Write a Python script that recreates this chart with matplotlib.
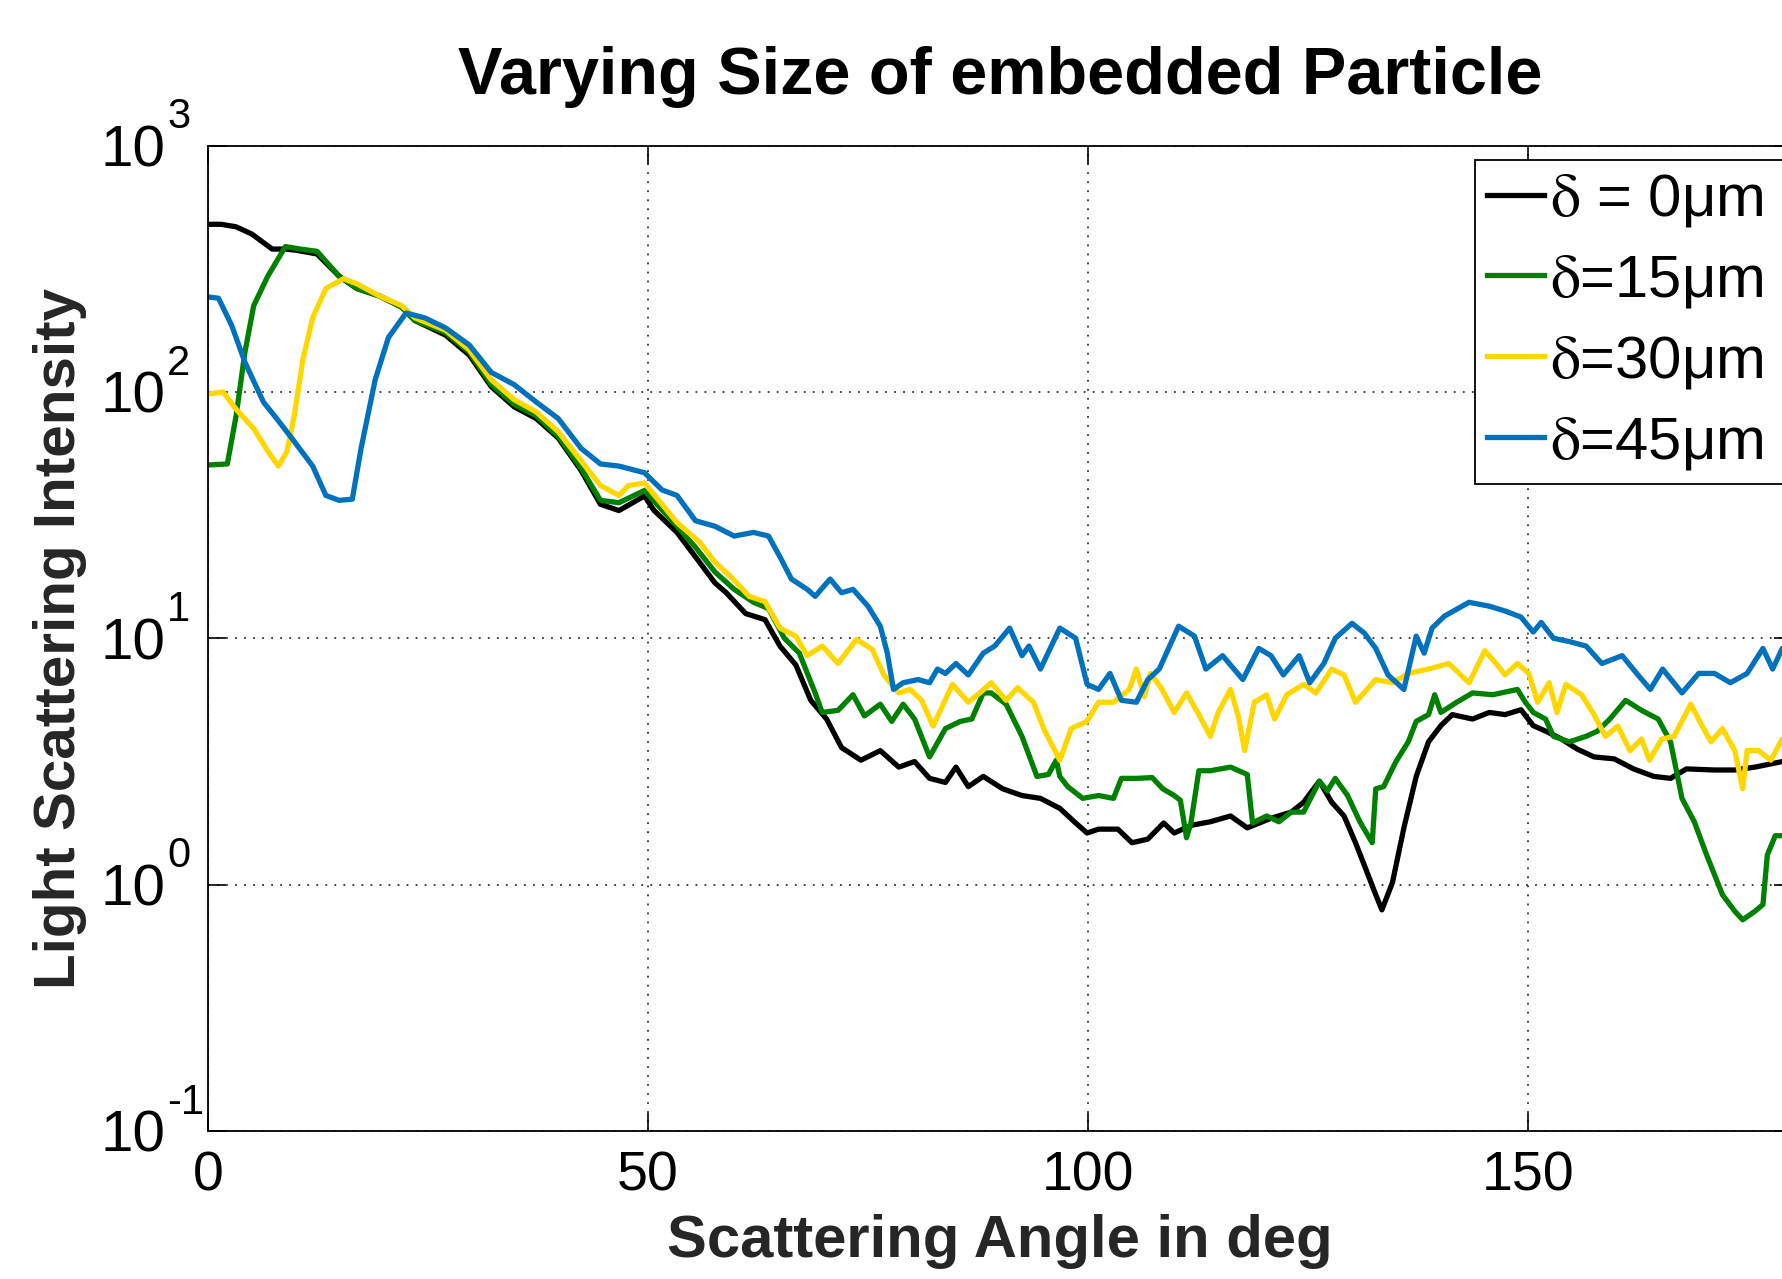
import matplotlib.pyplot as plt
from matplotlib.ticker import FixedLocator, NullLocator

plt.rcParams['font.family'] = ['Liberation Sans', 'DejaVu Sans']
plt.rcParams['mathtext.fontset'] = 'stix'

# scattering angle (deg) and intensity
angle_0um = [0, 1.5, 3.2, 5, 7.3, 8.8, 10, 12.4, 14.9, 16.9, 19.5, 22, 23.5, 27, 29.7, 32.2,
             34.8, 37.3, 39.8, 42.4, 44.6, 46.7, 49.6, 50.7, 53.3, 55.4, 57.6, 58.9, 61.1,
             63.3, 65, 66.8, 68.5, 70.3, 72, 74.2, 76.4, 78.5, 80.3, 82, 83.8, 85, 86.4, 88.1,
             90.3, 92.5, 94.6, 96.8, 98.6, 99.9, 101.2, 103.4, 105, 106.8, 108.6, 109.8,
             111.7, 113.9, 116.2, 118.1, 120.8, 123.1, 124.5, 126.3, 127.7, 129.1, 130.4,
             131.4, 132.7, 133.4, 134.6, 135.9, 137.3, 138.7, 140.1, 141.4, 143.7, 145.6,
             147.4, 149.2, 150.6, 152, 153.8, 155.6, 157.5, 159.8, 162, 164.3, 166.2, 168,
             171.2, 173.5, 175.8, 178.9, 180]
int_0um = [479, 479, 468, 437, 380, 380, 376, 363, 295, 263, 245, 221, 195, 170, 141, 105,
           87, 78, 65, 48, 35, 33, 37.8, 33, 26.9, 21.4, 16.8, 15.3, 12.6,
           11.9, 9.3, 7.8, 5.6, 4.7, 3.6, 3.2, 3.5, 3.0, 3.16, 2.7, 2.6, 3.0, 2.5, 2.75,
           2.45, 2.3, 2.24, 2.04, 1.78, 1.62, 1.68, 1.68, 1.48, 1.53, 1.78, 1.62,
           1.74, 1.8, 1.9, 1.7, 1.86, 1.97, 2.16, 2.63, 2.16, 1.9, 1.48,
           1.2, 0.91, 0.79, 1.02, 1.7, 2.75, 3.8, 4.42, 4.9, 4.7, 5.0,
           4.9, 5.13, 4.42, 4.2, 3.9, 3.55, 3.3, 3.24, 2.95, 2.75, 2.7, 2.95,
           2.92, 2.92, 3.0, 3.16, 3.16]

angle_15um = [0, 2.2, 3.2, 4.2, 5.2, 6.8, 8.8, 10.5, 12.4, 14.9, 16.9, 19.5, 22, 23.5, 27,
              29.7, 32.2, 34.8, 37.3, 39.8, 42.4, 44.6, 46.7, 49.6, 53.3, 55.4, 57.6, 59.8,
              62, 63.7, 65.5, 67.2, 69, 69.8, 71.6, 73.3, 74.6, 76.4, 77.7, 79, 80.3, 82,
              83.8, 85.5, 86.8, 88.1, 89, 90.7, 92.5, 94.2, 95.5, 96.4, 96.8, 97.7, 99.4,
              101.2, 102.9, 103.8, 105.5, 107.3, 108.5, 109.8, 110.5, 111.2, 111.7, 112.6,
              113.9, 116.2, 118.1, 118.7, 120.3, 121.7, 123.1, 124.5, 126.3, 127.2, 128.1,
              129.5, 130.9, 132.3, 132.7, 133.6, 135, 136.4, 137.3, 138.7, 139.4, 140.1,
              141.9, 143.7, 146, 148.8, 149.7, 150.6, 152, 152.9, 154.7, 156.6, 157.9,
              159.3, 161.1, 162.9, 164.8, 166.2, 167.5, 168.9, 170.3, 172.1, 173.5, 174.4,
              175.8, 176.7, 177.2, 178.1, 180]
int_15um = [50.5, 51, 80, 145, 224, 295, 389, 380, 372, 295, 263, 245, 221, 195, 174,
            145, 107, 89, 80, 66, 49, 36.3, 35.5, 39.8, 28.5, 23.4, 18.6, 15.8,
            14, 13.2, 10, 8.7, 6.0, 5.0, 5.1, 5.9, 4.84, 5.4, 4.6, 5.4, 4.7, 3.3,
            4.3, 4.6, 4.7, 6.0, 6.0, 5.4, 4.0, 2.75, 2.8, 3.2, 2.75, 2.5, 2.24,
            2.3, 2.24, 2.7, 2.7, 2.72, 2.45, 2.3, 2.2, 1.55, 1.78, 2.9,
            2.9, 3.0, 2.8, 1.78, 1.9, 1.8, 1.97, 1.97, 2.63, 2.4, 2.7,
            2.3, 1.8, 1.48, 2.45, 2.5, 3.16, 3.8, 4.6, 4.9, 5.9, 5.0,
            5.5, 6.0, 5.9, 6.2, 5.5, 5.0, 4.7, 4.0, 3.8, 4.0, 4.2,
            4.7, 5.6, 5.1, 4.7, 3.8, 2.24, 1.8, 1.32, 0.91, 0.78, 0.72,
            0.78, 0.83, 1.32, 1.58, 1.58]

angle_30um = [0, 1.7, 3.2, 5.2, 6.8, 8, 9, 9.8, 10.8, 11.9, 13.4, 15.4, 16.9, 19.5, 22, 23.5,
              27, 29.7, 32.2, 34.8, 37.3, 39.8, 42.4, 44.6, 46.7, 47.8, 49.6, 53.3, 55.9,
              57.6, 59.4, 61.5, 63.3, 65, 66.8, 68.1, 69.8, 71.6, 73.7, 75.5, 76.8, 78.5,
              79.8, 81.1, 82.4, 84.6, 86.4, 87.7, 89, 90.7, 92, 93.8, 95.1, 96.8, 98.1,
              99.9, 101.2, 102.9, 104.7, 105.5, 106.4, 107.1, 108.3, 109.8, 111.2, 112.6,
              113.9, 114.8, 116.2, 117.1, 117.8, 118.9, 120.3, 121.2, 122.6, 124.5, 125.9,
              127.7, 129.1, 130.4, 132.7, 134.6, 136.4, 138.7, 141, 143.3, 145.1, 146.5,
              147.4, 148.8, 150.1, 151.1, 152.4, 153.3, 154.3, 156.1, 157.5, 158.8, 160.2,
              161.6, 162.9, 163.8, 165.2, 166.6, 168.5, 169.8, 170.8, 172.1, 173.5, 174.4,
              174.9, 176.2, 177.6, 178.9, 180]
int_30um = [98, 100, 85, 71, 57.5, 50, 57.5, 80, 136, 200, 263, 288, 275, 245, 224, 200,
            178, 148, 112, 93, 83, 69, 52.5, 41.7, 38, 41.7, 42.7, 29.5, 24.5,
            20.4, 17.8, 14.8, 14.1, 11, 10.2, 8.5, 9.3, 7.9, 9.9, 9.0, 7.1, 6.0,
            6.2, 5.6, 4.4, 6.5, 5.5, 6.0, 6.6, 5.6, 6.3, 5.5, 4.2, 3.2, 4.3,
            4.6, 5.5, 5.5, 6.2, 7.5, 5.8, 7.2, 6.3, 5.0, 6.0, 4.9,
            4.0, 5.0, 6.2, 4.8, 3.5, 5.5, 5.9, 4.7, 5.9, 6.5, 6.0,
            7.5, 7.1, 5.5, 6.8, 6.6, 7.2, 7.5, 7.9, 6.6, 8.9, 7.8,
            7.1, 7.9, 7.2, 5.5, 6.6, 5.0, 6.5, 5.9, 4.9, 4.0, 4.4,
            3.5, 3.9, 3.2, 3.9, 4.0, 5.4, 4.4, 3.8, 4.3, 3.5, 2.45,
            3.5, 3.5, 3.2, 3.9, 4.0]

angle_45um = [0, 1.2, 2.7, 4.2, 6.3, 7.8, 9.8, 11.9, 13.4, 14.9, 16.4, 17.4, 19, 20.5, 22.5,
              24.6, 27, 29.7, 32.2, 34.8, 37.3, 39.8, 42.4, 44.6, 46.7, 49.6, 51.6, 53.3,
              55.4, 57.6, 59.8, 62, 63.7, 65, 66.3, 68.1, 69, 70.7, 72, 73.3, 75, 76.4,
              77.2, 77.9, 79, 80.7, 82, 82.9, 83.8, 85, 86.4, 88.1, 89.4, 91.1, 92.5, 93.3,
              94.6, 96.8, 98.6, 99.9, 101.2, 102.5, 103.8, 105.5, 106.8, 108.1, 110.3,
              112.1, 113.4, 115.3, 117.6, 119.4, 120.8, 122.2, 124, 125.2, 126.8, 128.1,
              130, 131.4, 132.7, 134.1, 135.9, 137.3, 138.2, 139.1, 140.5, 143.3, 145.6,
              147.4, 149.2, 150.6, 151.5, 152.9, 154.7, 156.6, 158.4, 160.7, 162.5, 163.9,
              165.3, 167.5, 169.4, 171.2, 173, 174.9, 176.7, 177.8, 178.9, 180]
int_45um = [243, 240, 186, 132, 91, 78, 63, 50, 38, 36.3, 36.7, 59, 112, 166, 209,
            200, 182, 155, 120, 107, 91, 78, 59, 51, 50, 47, 40, 38,
            30, 28.5, 26, 26.9, 26, 21.4, 17.4, 15.8, 14.8, 17.4, 15.3, 15.8, 13.5, 11.2,
            8.7, 6.2, 6.6, 6.8, 6.6, 7.5, 7.2, 7.9, 7.1, 8.7, 9.3, 11, 8.5, 9.3,
            7.5, 11, 10, 6.5, 6.2, 7.2, 5.6, 5.5, 6.8, 7.5, 11.2,
            10.2, 7.5, 8.5, 6.8, 9.1, 8.5, 7.1, 8.5, 6.6, 7.9, 10,
            11.5, 10.5, 9.1, 7.1, 6.2, 10.2, 8.7, 11, 12.3, 14, 13.5,
            12.9, 12.2, 10.6, 11.6, 10, 9.7, 9.3, 7.9, 8.5, 7.1, 6.2,
            7.5, 6.0, 7.2, 7.2, 6.6, 7.2, 9.1, 7.5, 9.1, 8.9]

labels = [r'$\mathrm{\delta}$ = 0μm', r'$\mathrm{\delta}$=15μm',
          r'$\mathrm{\delta}$=30μm', r'$\mathrm{\delta}$=45μm']
colors = ['#000000', '#008000', '#FFD700', '#0072BD']
ytick_vals = [0.1, 1, 10, 100, 1000]
ytick_exps = ['-1', '0', '1', '2', '3']
xtick_vals = [0, 50, 100, 150]

fig = plt.figure(figsize=(17.82, 12.79), dpi=100)
# axes runs a bit past the right edge like in the original export
ax = fig.add_axes([0.1167, 0.1157, 0.8889, 0.7705])

series = [(angle_0um, int_0um), (angle_15um, int_15um), (angle_30um, int_30um), (angle_45um, int_45um)]
for (xs, ys), lab, col in zip(series, labels, colors):
    ax.plot(xs, ys, color=col, lw=3.8, label=lab)

ax.set_yscale('log')
ax.set_xlim(0, 180)
ax.set_ylim(0.1, 1000)
ax.yaxis.set_major_locator(FixedLocator(ytick_vals))
ax.yaxis.set_minor_locator(NullLocator())
ax.set_yticklabels([])
ax.set_xticks(xtick_vals)
ax.set_xticklabels([str(v) for v in xtick_vals])

# matlab style "10" with raised exponent
for v, e in zip(ytick_vals, ytick_exps):
    ax.annotate('10', xy=(0, v), xycoords=('axes fraction', 'data'), xytext=(-31, -15),
                textcoords='offset points', ha='right', va='baseline', fontsize=42,
                annotation_clip=False)
    ax.annotate(e, xy=(0, v), xycoords=('axes fraction', 'data'), xytext=(-29.5, 12.5),
                textcoords='offset points', ha='left', va='baseline', fontsize=30,
                annotation_clip=False)

ax.grid(True, which='major', color='#333333', lw=1.3, linestyle=(0, (1, 4)))
ax.set_axisbelow(True)
ax.tick_params(which='both', direction='in', top=True, right=True, length=13, width=1.2)
ax.tick_params(axis='x', labelsize=40, pad=14)
for sp in ax.spines.values():
    sp.set_linewidth(1.3)

ax.set_title('Varying Size of embedded Particle', fontsize=48, fontweight='bold', pad=37)
ax.set_xlabel('Scattering Angle in deg', fontsize=43, fontweight='bold', color='#262626', labelpad=8)
ax.set_ylabel('Light Scattering Intensity', fontsize=42, fontweight='bold', color='#262626')
ax.yaxis.set_label_coords(-0.0762, 0.5)

# legend box is cut by the right edge in the original
leg = ax.legend(loc='upper left', bbox_to_anchor=(1475 / 1782, 1 - 160 / 1279, 0.18, 0),
                bbox_transform=fig.transFigure, borderaxespad=0, fontsize=43, mode='expand',
                handlelength=0.95, handletextpad=0.1, borderpad=0.2, labelspacing=0.4,
                fancybox=False, framealpha=1, edgecolor='black')
leg.get_frame().set_linewidth(1.3)

plt.savefig('out.png', dpi=100)
plt.close()
